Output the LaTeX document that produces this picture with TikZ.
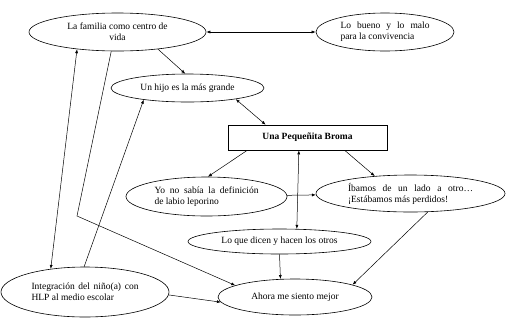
\documentclass[tikz,border=0pt]{standalone}
\usepackage{fontspec}
\setmainfont{Liberation Serif}
\usetikzlibrary{arrows.meta,shapes.geometric}
\tikzset{
  ell/.style={draw, ellipse, inner sep=0pt, line width=0.6pt, font=\fontsize{9.5}{11}\selectfont},
  jus/.style={ell, align=justify, text width=#1},
  head/.style={draw, rectangle, minimum width=159pt, minimum height=25pt, line width=0.6pt, font=\fontsize{9.5}{11}\selectfont\bfseries},
  arr/.style={-{Latex[length=4pt,width=3pt]}, line width=0.5pt},
  darr/.style={{Latex[length=4pt,width=3pt]}-{Latex[length=4pt,width=3pt]}, line width=0.5pt}
}

\begin{document}
\begin{tikzpicture}[x=1pt,y=-1pt]
\useasboundingbox (0,0) rectangle (519,325);
% nodes
\node[ell, align=center, minimum width=177pt, minimum height=38pt] (familia) at (117.5,32) {La familia como centro de\\vida};
\node[jus=89pt, minimum width=138pt, minimum height=38pt] (bueno) at (385,32) {Lo bueno y lo malo\linebreak para la convivencia};
\node[ell, minimum width=153pt, minimum height=28pt] (hijo) at (187.5,88) {Un hijo es la más grande};
\node[head] (broma) at (307.5,137.5) {Una Pequeñita Broma};
\node[jus=104pt, minimum width=161pt, minimum height=39pt] (yo) at (206.5,196.5) {Yo no sabía la definición\linebreak de labio leporino};
\node[jus=125pt, minimum width=189pt, minimum height=37pt] (ibamos) at (410.5,193.5) {Íbamos de un lado a otro…\linebreak ¡Estábamos más perdidos!};
\node[ell, minimum width=183pt, minimum height=25pt] (loque) at (279.5,241.5) {Lo que dicen y hacen los otros};
\node[jus=107pt, minimum width=168pt, minimum height=50pt] (integ) at (85,292) {Integración del niño(a) con\linebreak HLP al medio escolar};
\node[ell, minimum width=154pt, minimum height=36pt] (ahora) at (295,297) {Ahora me siento mejor};
\coordinate (codo) at (77,216);
% connectors
\draw[darr] (familia) -- (bueno);
\draw[arr] (familia.-23) -- (hijo.99);
\draw[darr] (hijo.-13) -- (broma.163);
\draw[arr] (broma.192) -- (yo.86);
\draw[arr] (broma.-19) -- (ibamos.154);
\draw[darr] (broma.236) -- (loque.36);
\draw[arr] (yo) -- (ibamos);
\draw[arr] (ibamos.-47) -- (ahora.12);
\draw[arr] (loque.-90) -- (ahora.129);
\draw[arr] (familia.-108) -- (codo) -- (ahora.169);
\draw[darr] (integ.146) -- (familia.203);
\draw[arr] (integ.92) -- (hijo.195);
\draw[arr] (integ.-2) -- (ahora.184);
\end{tikzpicture}
\end{document}
